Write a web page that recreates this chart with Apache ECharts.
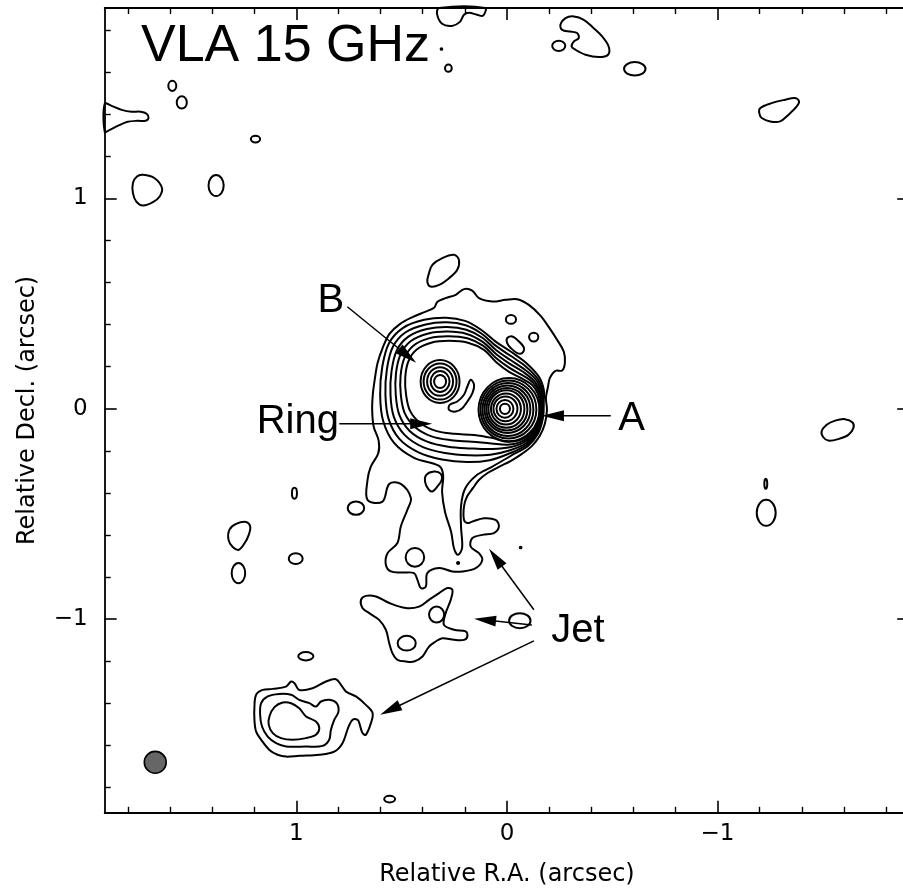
<!DOCTYPE html>
<html>
<head>
<meta charset="utf-8">
<script src="https://cdn.jsdelivr.net/npm/echarts@6/dist/echarts.min.js"></script>
<style>
html, body { margin: 0; padding: 0; background: #fff; overflow: hidden; }
#chart { width: 912px; height: 894px; }
</style>
</head>
<body>
<div id="chart"></div>
<script>
// Axis ticks, arcsec
const majorTicks = [-1, 0, 1];
const minorTicks = [-1.8, -1.6, -1.4, -1.2, -0.8, -0.6, -0.4, -0.2, 0.2, 0.4, 0.6, 0.8, 1.2, 1.4, 1.6, 1.8];

// Contour loops: [R.A. offset, Decl. offset] in arcsec
const outerEnvelope = [[0.204,0.569],[0.243,0.542],[0.291,0.526],[0.330,0.509],[0.346,0.480],[0.389,0.461],[0.446,0.437],[0.507,0.404],[0.557,0.357],[0.590,0.290],[0.614,0.219],[0.628,0.138],[0.637,0.067],[0.640,-0.005],[0.633,-0.084],[0.609,-0.152],[0.611,-0.211],[0.646,-0.274],[0.662,-0.338],[0.662,-0.433],[0.591,-0.441],[0.559,-0.357],[0.504,-0.357],[0.456,-0.424],[0.473,-0.480],[0.504,-0.559],[0.520,-0.638],[0.567,-0.686],[0.575,-0.741],[0.551,-0.773],[0.496,-0.778],[0.441,-0.781],[0.425,-0.813],[0.409,-0.852],[0.385,-0.845],[0.378,-0.781],[0.322,-0.757],[0.259,-0.773],[0.212,-0.773],[0.148,-0.757],[0.117,-0.718],[0.133,-0.686],[0.172,-0.655],[0.165,-0.615],[0.117,-0.599],[0.062,-0.591],[0.038,-0.559],[0.054,-0.528],[0.109,-0.520],[0.165,-0.536],[0.188,-0.543],[0.204,-0.528],[0.204,-0.464],[0.190,-0.418],[0.161,-0.376],[0.133,-0.338],[0.090,-0.304],[0.038,-0.276],[-0.019,-0.247],[-0.071,-0.214],[-0.119,-0.176],[-0.156,-0.128],[-0.180,-0.071],[-0.190,-0.005],[-0.185,0.052],[-0.194,0.100],[-0.204,0.147],[-0.231,0.181],[-0.262,0.182],[-0.275,0.217],[-0.270,0.272],[-0.238,0.328],[-0.199,0.388],[-0.160,0.442],[-0.104,0.494],[-0.049,0.521],[0.006,0.518],[0.070,0.510],[0.133,0.526],[0.165,0.562]];

const ringLevel2 = [[-0.175,0.038],[-0.175,0.090],[-0.152,0.152],[-0.090,0.219],[-0.019,0.271],[0.052,0.318],[0.123,0.376],[0.199,0.418],[0.289,0.433],[0.393,0.423],[0.493,0.385],[0.559,0.314],[0.592,0.200],[0.602,0.067],[0.588,-0.057],[0.536,-0.162],[0.441,-0.233],[0.322,-0.271],[0.303,-0.314],[0.308,-0.395],[0.294,-0.490],[0.265,-0.585],[0.251,-0.665],[0.232,-0.694],[0.213,-0.661],[0.218,-0.561],[0.218,-0.461],[0.199,-0.380],[0.147,-0.318],[0.071,-0.276],[-0.019,-0.223],[-0.100,-0.176],[-0.147,-0.119],[-0.171,-0.043]];

const ringLevel3 = [[-0.171,0.034],[-0.169,0.086],[-0.145,0.144],[-0.085,0.205],[-0.017,0.252],[0.052,0.299],[0.120,0.357],[0.196,0.397],[0.286,0.411],[0.386,0.401],[0.481,0.364],[0.541,0.296],[0.570,0.189],[0.577,0.067],[0.562,-0.048],[0.511,-0.143],[0.420,-0.207],[0.308,-0.241],[0.190,-0.253],[0.082,-0.244],[-0.017,-0.210],[-0.097,-0.168],[-0.144,-0.113],[-0.167,-0.042]];

const ringLevel4 = [[-0.167,0.030],[-0.164,0.082],[-0.139,0.137],[-0.080,0.190],[-0.015,0.233],[0.052,0.280],[0.117,0.338],[0.193,0.376],[0.283,0.389],[0.380,0.379],[0.468,0.343],[0.523,0.278],[0.548,0.179],[0.553,0.067],[0.537,-0.038],[0.486,-0.124],[0.399,-0.182],[0.294,-0.210],[0.182,-0.221],[0.079,-0.218],[-0.015,-0.197],[-0.094,-0.161],[-0.141,-0.107],[-0.163,-0.041]];

const ringLevel5 = [[-0.164,0.027],[-0.158,0.079],[-0.132,0.129],[-0.076,0.176],[-0.014,0.214],[0.052,0.261],[0.115,0.318],[0.191,0.356],[0.281,0.367],[0.373,0.358],[0.456,0.322],[0.505,0.259],[0.527,0.168],[0.528,0.067],[0.511,-0.029],[0.462,-0.105],[0.379,-0.156],[0.279,-0.180],[0.173,-0.188],[0.077,-0.191],[-0.014,-0.183],[-0.091,-0.153],[-0.139,-0.102],[-0.160,-0.040]];

const ringLevel6 = [[-0.160,0.023],[-0.153,0.075],[-0.126,0.122],[-0.071,0.161],[-0.012,0.195],[0.052,0.242],[0.112,0.299],[0.188,0.335],[0.278,0.345],[0.367,0.336],[0.443,0.301],[0.487,0.241],[0.505,0.158],[0.504,0.067],[0.486,-0.019],[0.437,-0.086],[0.358,-0.131],[0.265,-0.149],[0.165,-0.156],[0.074,-0.165],[-0.012,-0.170],[-0.088,-0.146],[-0.136,-0.096],[-0.156,-0.039]];

const ringLevel7 = [[-0.156,0.019],[-0.147,0.071],[-0.119,0.114],[-0.066,0.147],[-0.010,0.176],[0.052,0.223],[0.109,0.280],[0.185,0.314],[0.275,0.323],[0.360,0.314],[0.431,0.280],[0.469,0.223],[0.483,0.147],[0.479,0.067],[0.460,-0.010],[0.412,-0.067],[0.337,-0.105],[0.251,-0.119],[0.156,-0.124],[0.071,-0.138],[-0.010,-0.157],[-0.085,-0.138],[-0.133,-0.090],[-0.152,-0.038]];

const crescent = [[0.172,0.138],[0.156,0.114],[0.164,0.075],[0.188,0.035],[0.212,0.003],[0.243,-0.013],[0.275,-0.005],[0.272,0.019],[0.236,0.035],[0.204,0.067],[0.188,0.106]];

const northKnot = [[0.370,0.645],[0.354,0.684],[0.307,0.716],[0.251,0.732],[0.228,0.708],[0.236,0.661],[0.275,0.621],[0.322,0.589],[0.362,0.581],[0.378,0.605]];

const northTongue = [[-0.001,0.336],[-0.025,0.344],[-0.057,0.320],[-0.081,0.289],[-0.073,0.265],[-0.049,0.265],[-0.018,0.289],[-0.001,0.312]];

const jetKnotInner = [[0.383,-0.314],[0.346,-0.298],[0.314,-0.309],[0.310,-0.338],[0.330,-0.369],[0.354,-0.393],[0.373,-0.382],[0.389,-0.346]];

const jetKnotMid = [[0.693,-0.908],[0.670,-0.889],[0.622,-0.892],[0.559,-0.923],[0.480,-0.947],[0.417,-0.940],[0.370,-0.908],[0.322,-0.876],[0.283,-0.852],[0.259,-0.860],[0.267,-0.908],[0.291,-0.971],[0.299,-1.027],[0.251,-1.050],[0.196,-1.058],[0.188,-1.082],[0.204,-1.098],[0.251,-1.098],[0.307,-1.090],[0.338,-1.106],[0.370,-1.130],[0.401,-1.177],[0.441,-1.201],[0.480,-1.201],[0.520,-1.193],[0.544,-1.161],[0.559,-1.114],[0.575,-1.050],[0.607,-1.003],[0.654,-0.971],[0.686,-0.947]];

const southKnotOuter = [[1.191,-1.359],[1.160,-1.336],[1.112,-1.331],[1.049,-1.320],[1.025,-1.296],[1.009,-1.304],[0.986,-1.336],[0.923,-1.328],[0.859,-1.296],[0.812,-1.285],[0.788,-1.312],[0.764,-1.344],[0.717,-1.367],[0.670,-1.407],[0.638,-1.446],[0.646,-1.494],[0.670,-1.549],[0.686,-1.541],[0.701,-1.494],[0.709,-1.478],[0.733,-1.478],[0.752,-1.510],[0.781,-1.589],[0.820,-1.629],[0.891,-1.644],[0.986,-1.649],[1.049,-1.653],[1.089,-1.644],[1.128,-1.621],[1.167,-1.573],[1.191,-1.534],[1.199,-1.478],[1.199,-1.415]];

const southKnotMid = [[1.167,-1.399],[1.136,-1.367],[1.081,-1.355],[1.025,-1.359],[0.986,-1.383],[0.938,-1.399],[0.907,-1.415],[0.883,-1.391],[0.844,-1.383],[0.809,-1.399],[0.800,-1.439],[0.820,-1.478],[0.836,-1.526],[0.844,-1.573],[0.875,-1.602],[0.954,-1.605],[1.049,-1.605],[1.096,-1.589],[1.136,-1.558],[1.163,-1.510],[1.172,-1.454]];

const southKnotInner = [[1.128,-1.462],[1.104,-1.418],[1.065,-1.396],[1.025,-1.399],[0.986,-1.423],[0.954,-1.462],[0.907,-1.486],[0.891,-1.518],[0.907,-1.549],[0.954,-1.565],[1.018,-1.573],[1.073,-1.565],[1.112,-1.541],[1.131,-1.502]];

const edgeWest = [[1.91,1.450],[1.877,1.440],[1.829,1.421],[1.782,1.412],[1.739,1.412],[1.711,1.402],[1.702,1.383],[1.716,1.369],[1.754,1.369],[1.801,1.364],[1.848,1.345],[1.886,1.326],[1.91,1.317]];

const edgeNorth = [[0.322,1.905],[0.332,1.877],[0.308,1.830],[0.261,1.820],[0.223,1.839],[0.204,1.873],[0.180,1.882],[0.142,1.873],[0.114,1.868],[0.104,1.905]];

const northEastPatch = [[-0.254,1.825],[-0.278,1.857],[-0.318,1.865],[-0.365,1.849],[-0.412,1.809],[-0.452,1.770],[-0.483,1.722],[-0.480,1.683],[-0.436,1.672],[-0.373,1.683],[-0.326,1.706],[-0.307,1.722],[-0.318,1.746],[-0.341,1.762],[-0.333,1.786],[-0.302,1.793],[-0.262,1.801]];

const farEastPatch = [[-1.202,1.429],[-1.257,1.453],[-1.321,1.469],[-1.368,1.477],[-1.387,1.461],[-1.376,1.437],[-1.336,1.397],[-1.297,1.366],[-1.250,1.366],[-1.210,1.382],[-1.198,1.405]];

const eastPatch = [[-1.494,-0.108],[-1.518,-0.076],[-1.558,-0.056],[-1.605,-0.049],[-1.641,-0.065],[-1.645,-0.092],[-1.621,-0.124],[-1.573,-0.144],[-1.526,-0.151],[-1.502,-0.135]];

const westPatchSouth = [[1.318,-0.575],[1.286,-0.547],[1.238,-0.538],[1.219,-0.559],[1.226,-0.599],[1.246,-0.639],[1.273,-0.670],[1.302,-0.657],[1.322,-0.623]];

const westPatchNorth = [[1.728,1.112],[1.673,1.096],[1.638,1.049],[1.649,1.009],[1.681,0.982],[1.728,0.966],[1.760,0.985],[1.776,1.025],[1.776,1.073],[1.757,1.104]];

// Small oval islands: [R.A., Decl., half-width, half-height] in arcsec
const ovalIslands = [
  [1.589,1.535,0.019,0.024],[1.544,1.456,0.024,0.029],[1.194,1.282,0.022,0.016],[1.381,1.061,0.036,0.050],
  [0.311,1.710,0.004,0.004],[0.278,1.619,0.016,0.017],[-0.246,1.725,0.031,0.024],[-0.607,1.616,0.051,0.032],
  [-1.229,-0.356,0.007,0.024],[-1.231,-0.494,0.045,0.062],[1.009,-0.401,0.012,0.026],[1.275,-0.781,0.032,0.048],
  [1.003,-0.712,0.033,0.026],[0.717,-0.472,0.039,0.032],[0.955,-1.176,0.036,0.020],[0.557,-1.855,0.026,0.016],
  [-0.065,-0.659,0.004,0.004],[0.232,-0.733,0.005,0.005],[0.334,-0.978,0.036,0.038],[0.476,-1.114,0.043,0.035],
  [-0.061,-1.007,0.051,0.036],[0.437,-0.706,0.044,0.045],[-0.019,0.425,0.024,0.021],[-0.127,0.341,0.022,0.021]
];

// Compact components: nested contours, [R.A., Decl., half-width, half-height]
const componentA = [[0.0095,0,0.0237,0.0245],[0.0095,0,0.0403,0.042],[0.0071,0,0.0569,0.059],[0.0047,-0.001,0.0711,0.074],[0.0024,-0.001,0.0853,0.089],[0,-0.002,0.0972,0.101],[-0.0024,-0.002,0.109,0.113],[-0.0047,-0.003,0.1209,0.126],[-0.0071,-0.003,0.1327,0.138],[-0.0095,-0.004,0.1445,0.150]];
const componentB = [[0.3175,0.1298,0.0284,0.031],[0.3175,0.1298,0.045,0.050],[0.3175,0.1298,0.0616,0.068],[0.3175,0.1298,0.0782,0.086],[0.3175,0.1298,0.0924,0.102]];

// Restoring beam
const beam = [[1.67,-1.68,0.052,0.052]];

// Annotations
const labelNames = ['B', 'Ring', 'A', 'Jet'];
const labelPos = [[0.8365,0.5133],[0.993,-0.064],[-0.592,-0.0475],[-0.3365,-1.055]];
// Arrows: [fromRA, fromDec, toRA, toDec]
const arrowLines = [[0.758,0.485,0.431,0.219],[0.796,-0.071,0.355,-0.071],[-0.493,-0.033,-0.166,-0.033],[-0.128,-0.955,0.085,-0.665],[-0.118,-1.027,0.156,-0.998],[-0.128,-1.103,0.602,-1.454]];

const contourLoops = [outerEnvelope, ringLevel2, ringLevel3, ringLevel4, ringLevel5, ringLevel6, ringLevel7,
  crescent, northKnot, northTongue, jetKnotInner, jetKnotMid, southKnotOuter, southKnotMid, southKnotInner,
  edgeWest, edgeNorth, northEastPatch, farEastPatch, eastPatch, westPatchSouth, westPatchNorth];

const LINE = '#000';
const TICK_FONT = 'DejaVu Sans';
const fmt = v => (v < 0 ? '\u2212' + Math.abs(v) : String(v));

function ellipseRenderer(list, style) {
  return (params, api) => {
    const e = list[params.dataIndex];
    const c = api.coord([e[0], e[1]]);
    const s = api.size([e[2], e[3]], [e[0], e[1]]);
    return { type: 'ellipse', shape: { cx: c[0], cy: c[1], rx: s[0], ry: s[1] }, style: style, silent: true };
  };
}

function axisPair(dim, pos, withLabel) {
  const base = {
    type: 'value', position: pos, min: -1.91, max: 1.91,
    splitLine: { show: false }
  };
  if (dim === 'x') { base.inverse = true; } else { base.min = -1.92; base.max = 1.905; }
  const major = Object.assign({}, base, {
    axisLine: { show: true, onZero: false, lineStyle: { color: LINE, width: 1.8 } },
    axisTick: { show: true, inside: true, length: 12, customValues: majorTicks, lineStyle: { color: LINE, width: 1.6 } },
    axisLabel: withLabel ? {
      show: true, customValues: majorTicks, formatter: fmt, color: '#000',
      fontFamily: TICK_FONT, fontSize: 23, margin: dim === 'x' ? 10 : 17
    } : { show: false }
  });
  const minor = Object.assign({}, base, {
    axisLine: { show: false, onZero: false },
    axisTick: { show: true, inside: true, length: 6, customValues: minorTicks, lineStyle: { color: LINE, width: 1.4 } },
    axisLabel: { show: false }
  });
  return [major, minor];
}

const xAxes = axisPair('x', 'bottom', true).concat(axisPair('x', 'top', false));
xAxes[0].name = 'Relative R.A. (arcsec)';
xAxes[0].nameLocation = 'middle';
xAxes[0].nameGap = 50;
xAxes[0].nameTextStyle = { fontFamily: TICK_FONT, fontSize: 24, color: '#000' };
const yAxes = axisPair('y', 'left', true).concat(axisPair('y', 'right', false));
yAxes[0].name = 'Relative Decl. (arcsec)';
yAxes[0].nameLocation = 'middle';
yAxes[0].nameGap = 65;
yAxes[0].nameTextStyle = { fontFamily: TICK_FONT, fontSize: 24, color: '#000' };

const lineStyle = { fill: 'none', stroke: LINE, lineWidth: 2 };

const chart = echarts.init(document.getElementById('chart'), null, { renderer: 'canvas' });
chart.setOption({
  animation: false,
  backgroundColor: '#fff',
  grid: { left: 104.7, top: 8, width: 804.5, height: 804.8, containLabel: false, outerBoundsMode: 'none' },
  xAxis: xAxes,
  yAxis: yAxes,
  graphic: [{
    type: 'text', x: 141, y: 47,
    style: { text: 'VLA 15 GHz', font: '52px "Liberation Sans"', fill: '#000', verticalAlign: 'middle' }
  }],
  series: [
    {
      type: 'custom', name: 'contours', coordinateSystem: 'cartesian2d',
      data: contourLoops.map(l => l[0]),
      renderItem: (params, api) => {
        const loop = contourLoops[params.dataIndex];
        return { type: 'polygon', shape: { points: loop.map(p => api.coord(p)), smooth: 0.35 }, style: lineStyle, silent: true };
      }
    },
    {
      type: 'custom', name: 'islands', coordinateSystem: 'cartesian2d',
      data: ovalIslands.map(e => [e[0], e[1]]),
      renderItem: ellipseRenderer(ovalIslands, lineStyle)
    },
    {
      type: 'custom', name: 'A', coordinateSystem: 'cartesian2d',
      data: componentA.map(e => [e[0], e[1]]),
      renderItem: ellipseRenderer(componentA, lineStyle)
    },
    {
      type: 'custom', name: 'B', coordinateSystem: 'cartesian2d',
      data: componentB.map(e => [e[0], e[1]]),
      renderItem: ellipseRenderer(componentB, lineStyle)
    },
    {
      type: 'custom', name: 'beam', coordinateSystem: 'cartesian2d',
      data: beam.map(e => [e[0], e[1]]),
      renderItem: ellipseRenderer(beam, { fill: '#666', stroke: '#000', lineWidth: 1.6 })
    },
    {
      type: 'custom', name: 'arrows', coordinateSystem: 'cartesian2d', z: 5,
      data: arrowLines.map(a => [a[2], a[3]]),
      renderItem: (params, api) => {
        const a = arrowLines[params.dataIndex];
        const p0 = api.coord([a[0], a[1]]);
        const p1 = api.coord([a[2], a[3]]);
        const dx = p1[0] - p0[0], dy = p1[1] - p0[1];
        const len = Math.hypot(dx, dy);
        const ux = dx / len, uy = dy / len;
        const hl = 22, hw = 5.5;
        const bx = p1[0] - ux * hl, by = p1[1] - uy * hl;
        return {
          type: 'group', silent: true, children: [
            { type: 'line', shape: { x1: p0[0], y1: p0[1], x2: bx + ux * 3, y2: by + uy * 3 }, style: { stroke: '#000', lineWidth: 1.5 } },
            { type: 'polygon', shape: { points: [[p1[0], p1[1]], [bx - uy * hw, by + ux * hw], [bx + uy * hw, by - ux * hw]] }, style: { fill: '#000' } }
          ]
        };
      }
    },
    {
      type: 'custom', name: 'labels', coordinateSystem: 'cartesian2d', z: 6,
      data: labelPos,
      renderItem: (params, api) => {
        const c = api.coord(labelPos[params.dataIndex]);
        return {
          type: 'text', x: c[0], y: c[1], silent: true,
          style: { text: labelNames[params.dataIndex], font: '40px "Liberation Sans"', fill: '#000', align: 'center', verticalAlign: 'middle' }
        };
      }
    }
  ]
});
</script>
</body>
</html>
